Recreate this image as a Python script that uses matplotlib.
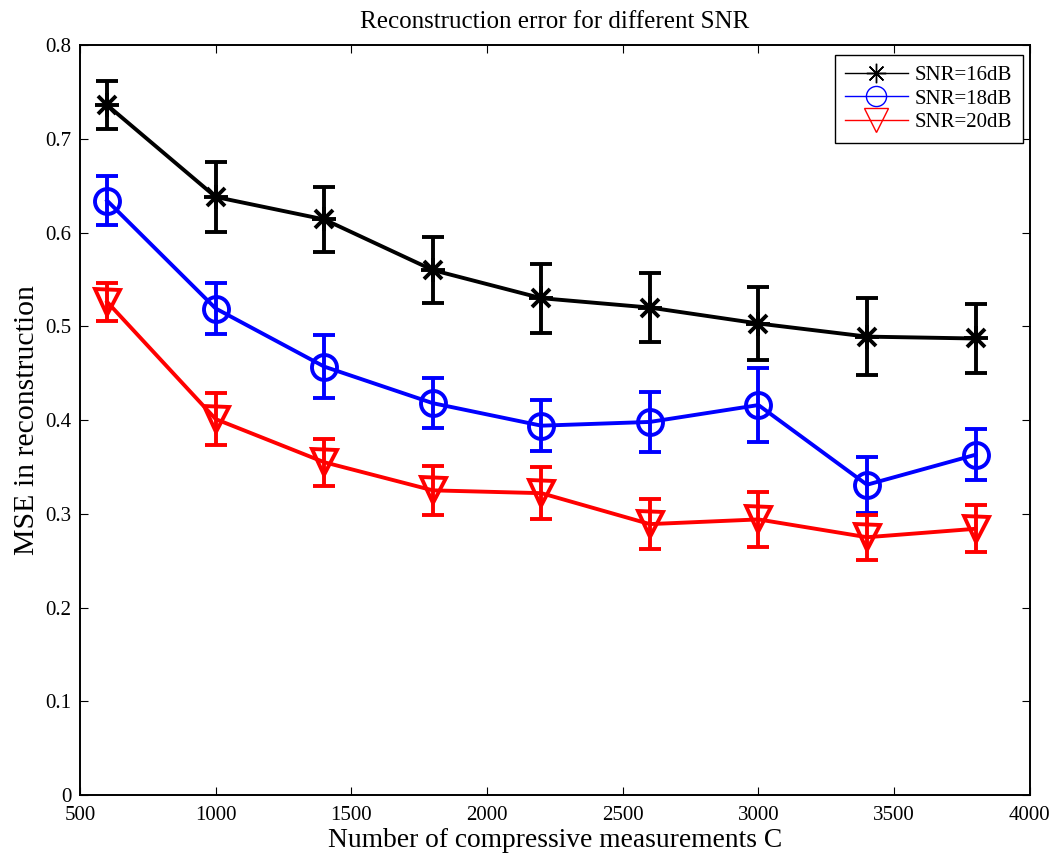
import matplotlib
matplotlib.use("Agg")
import matplotlib.pyplot as plt
from matplotlib.lines import Line2D

plt.rcParams['font.family'] = ['Liberation Serif', 'DejaVu Serif']
plt.rcParams['mathtext.fontset'] = 'stix'

C = [600, 1000, 1400, 1800, 2200, 2600, 3000, 3400, 3800]
mse16 = [0.736, 0.638, 0.614, 0.560, 0.530, 0.520, 0.503, 0.489, 0.487]
err16 = [0.026, 0.037, 0.035, 0.035, 0.037, 0.037, 0.039, 0.041, 0.037]
mse18 = [0.634, 0.519, 0.457, 0.418, 0.394, 0.398, 0.416, 0.331, 0.363]
err18 = [0.026, 0.027, 0.034, 0.027, 0.027, 0.032, 0.039, 0.030, 0.027]
mse20 = [0.526, 0.401, 0.355, 0.325, 0.322, 0.289, 0.294, 0.275, 0.284]
err20 = [0.020, 0.028, 0.025, 0.026, 0.028, 0.027, 0.029, 0.024, 0.025]
labels = ['SNR=16dB', 'SNR=18dB', 'SNR=20dB']
colors = ['black', 'blue', 'red']
markers = ['*', 'o', 'v']

fig = plt.figure(figsize=(10.6, 8.59), dpi=100)
ax = fig.add_axes([0.0755, 0.0745, 0.896, 0.873])

series = [(mse16, err16), (mse18, err18), (mse20, err20)]
for (y, e), c, m in zip(series, colors, markers):
    if m == '*':
        ax.errorbar(C, y, yerr=e, color=c, lw=2.8, elinewidth=2.8, capsize=8, capthick=2.8,
                    marker='x', markersize=13, markeredgewidth=2.8, zorder=3)
        ax.plot(C, y, linestyle='none', marker='+', markersize=17, markeredgewidth=2.8, color=c, zorder=4)
    elif m == 'o':
        ax.errorbar(C, y, yerr=e, color=c, lw=2.8, elinewidth=2.8, capsize=8, capthick=2.8,
                    marker='o', markersize=18, markerfacecolor='none', markeredgewidth=2.8, zorder=3)
    else:
        ax.errorbar(C, y, yerr=e, color=c, lw=2.8, elinewidth=2.8, capsize=8, capthick=2.8,
                    marker='v', markersize=18, markerfacecolor='none', markeredgewidth=2.8, zorder=3)

ax.set_xlim(500, 4000)
ax.set_ylim(0, 0.8)
ax.set_xticks([500, 1000, 1500, 2000, 2500, 3000, 3500, 4000])
ax.set_yticks([0, 0.1, 0.2, 0.3, 0.4, 0.5, 0.6, 0.7, 0.8])
ax.set_yticklabels(['0', '0.1', '0.2', '0.3', '0.4', '0.5', '0.6', '0.7', '0.8'])
ax.tick_params(direction='in', top=True, right=True, labelsize=15, length=6, width=0.8)
ax.tick_params(axis='x', pad=8)
ax.tick_params(axis='y', pad=6)
for s in ax.spines.values():
    s.set_linewidth(1.4)

ax.set_title('Reconstruction error for different SNR', fontsize=18, pad=12)
ax.set_xlabel('Number of compressive measurements C', fontsize=19.8, labelpad=2)
ax.set_ylabel('MSE in reconstruction', fontsize=21.4, labelpad=4)

handles = [
    Line2D([], [], color='black', lw=1, marker=(8, 2, 0), markersize=14, markeredgewidth=1),
    Line2D([], [], color='blue', lw=1, marker='o', markersize=14.5, markerfacecolor='none', markeredgewidth=1),
    Line2D([], [], color='red', lw=1, marker='v', markersize=17, markerfacecolor='none', markeredgewidth=1),
]
leg = ax.legend(handles, labels, loc='upper right', bbox_to_anchor=(0.9925, 0.987), fontsize=15,
                frameon=True, fancybox=False, edgecolor='black', framealpha=1,
                handlelength=3.0, borderpad=0.5, labelspacing=0.2, handletextpad=0.35, borderaxespad=0)
leg.get_frame().set_linewidth(1.0)

fig.savefig('out.png', dpi=100)
